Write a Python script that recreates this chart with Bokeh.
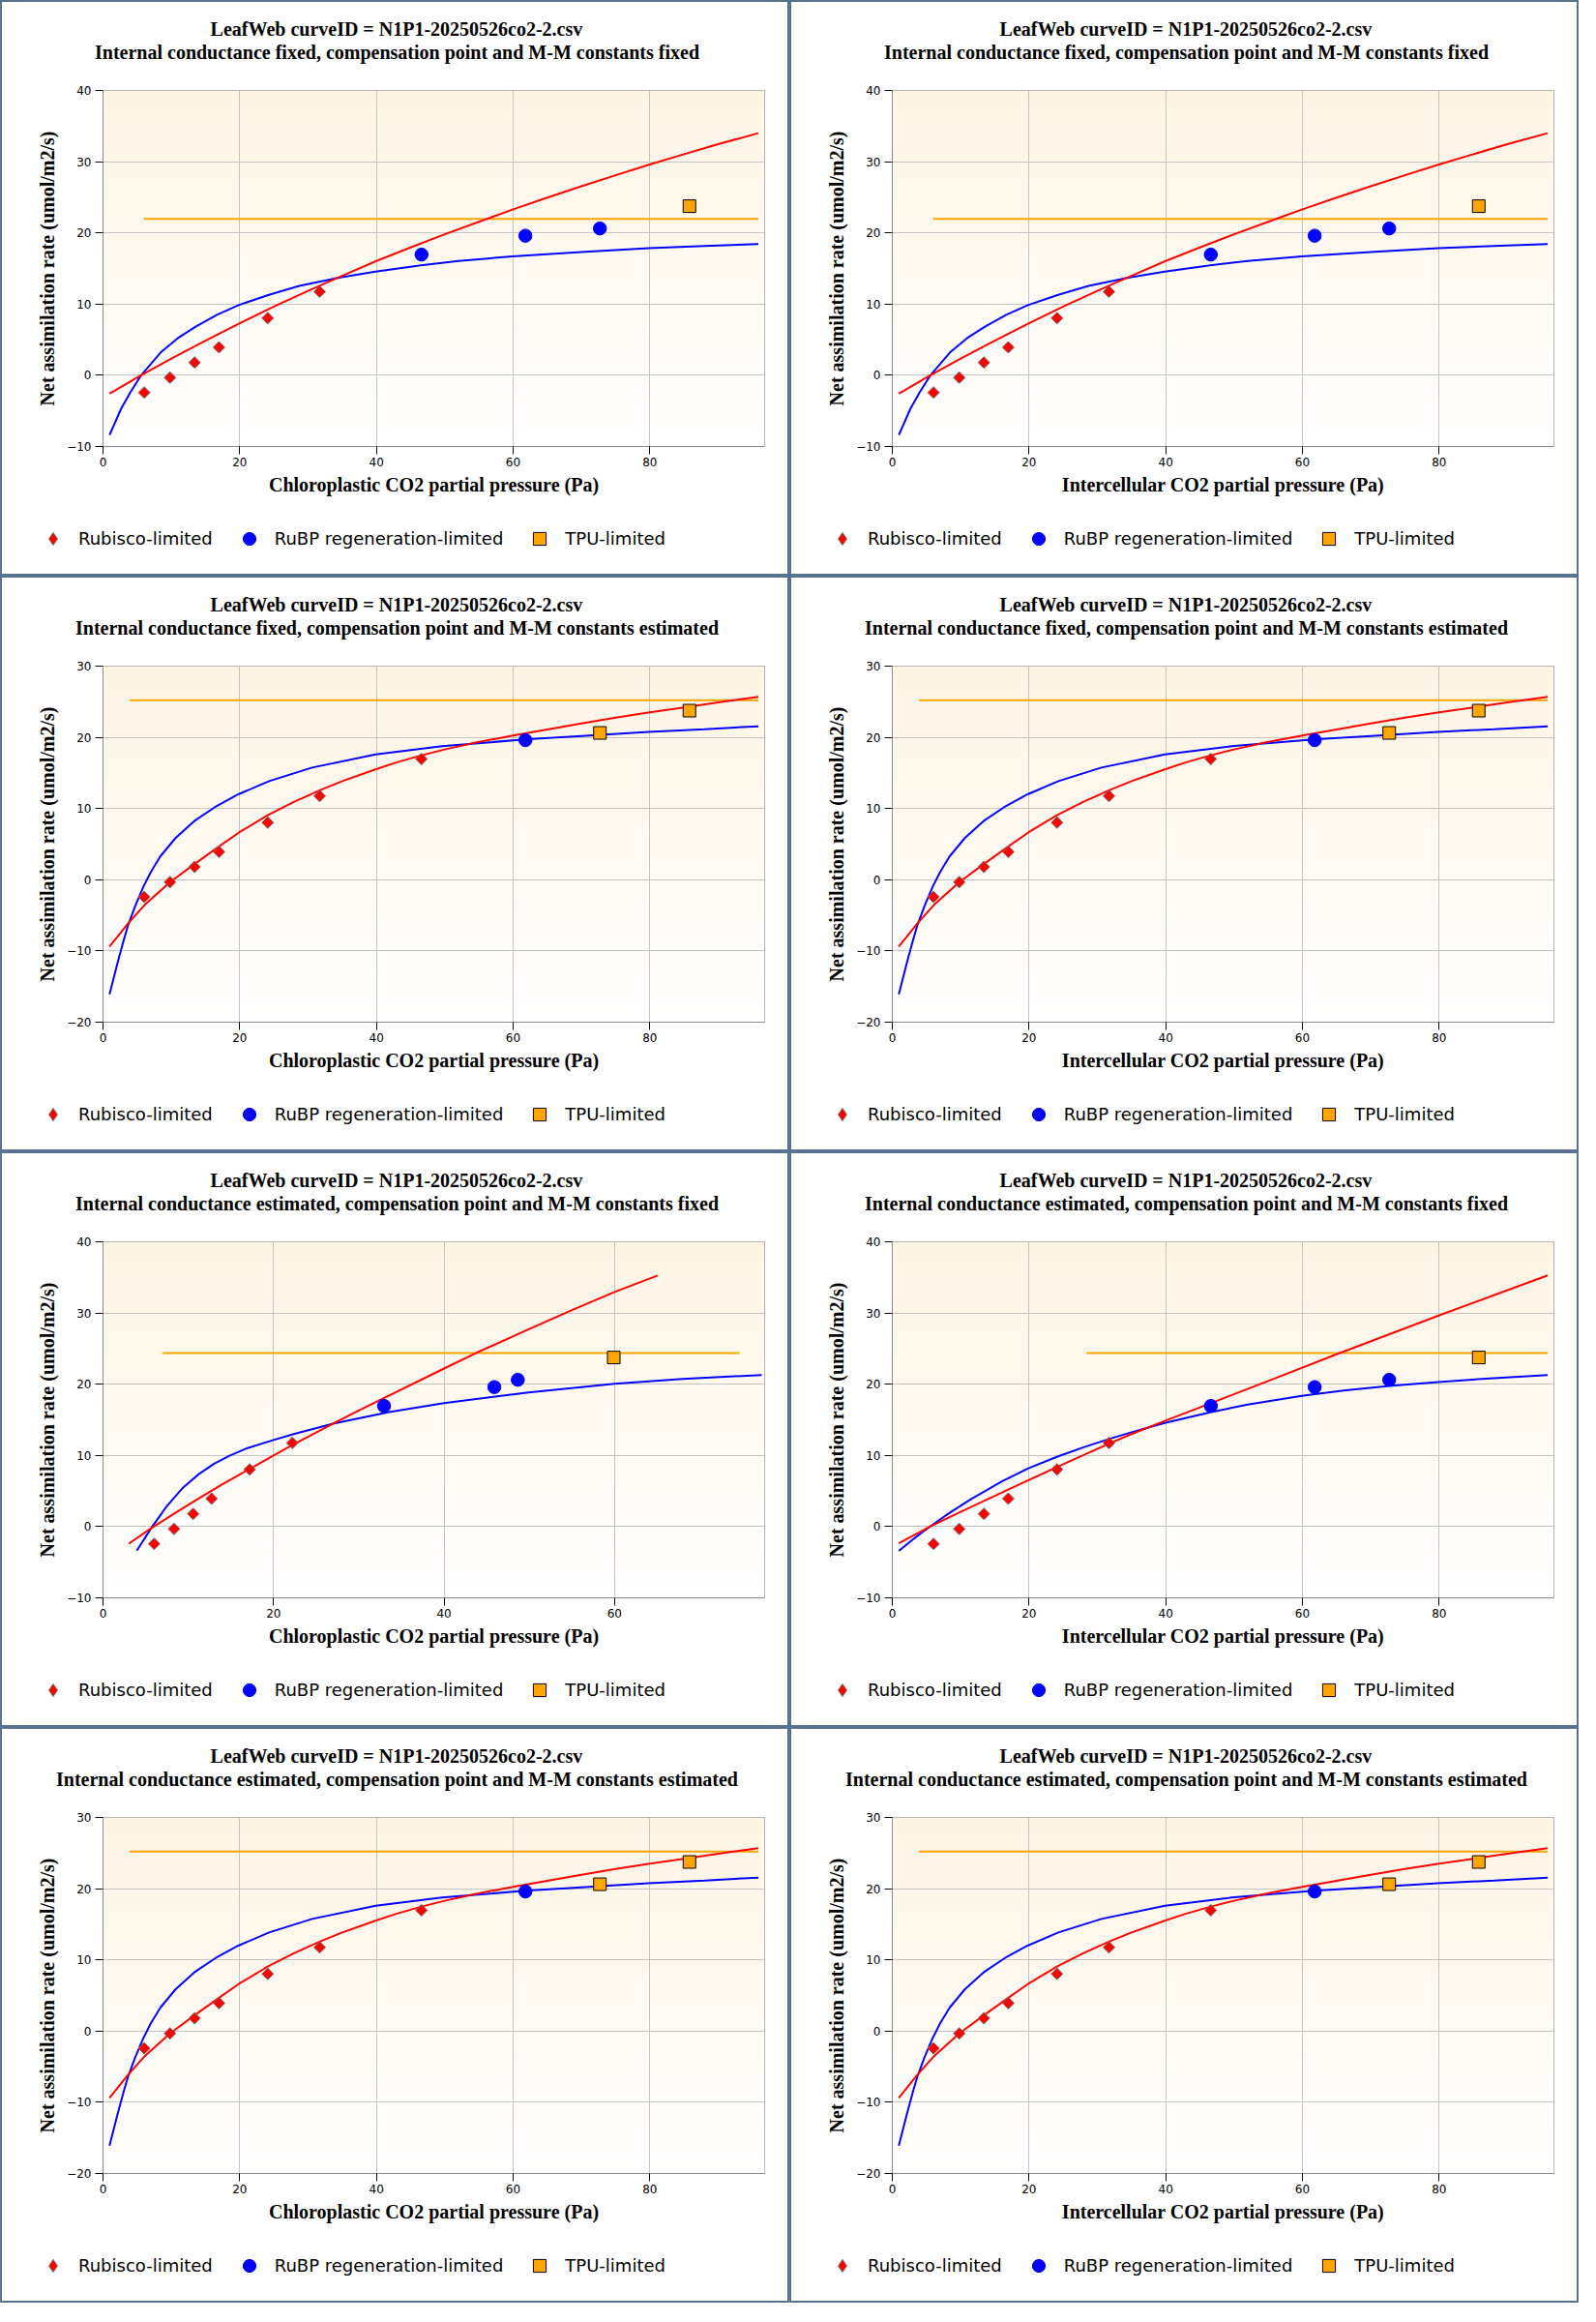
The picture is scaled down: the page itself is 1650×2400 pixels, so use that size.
import numpy as np
from bokeh.plotting import figure
from bokeh.models import (Range1d, SingleIntervalTicker, Title, Legend, LegendItem, GridBox, Column)
from bokeh.embed import file_html
from bokeh.resources import INLINE

# ---------------- text ----------------
TITLE_1 = "LeafWeb curveID = N1P1-20250526co2-2.csv"
SUB_FF = "Internal conductance fixed, compensation point and M-M constants fixed"
SUB_FE = "Internal conductance fixed, compensation point and M-M constants estimated"
SUB_EF = "Internal conductance estimated, compensation point and M-M constants fixed"
SUB_EE = "Internal conductance estimated, compensation point and M-M constants estimated"
XLAB_CC = "Chloroplastic CO2 partial pressure (Pa)"
XLAB_CI = "Intercellular CO2 partial pressure (Pa)"
YLAB = "Net assimilation rate (umol/m2/s)"
LEGEND_LABELS = ["Rubisco-limited", "RuBP regeneration-limited", "TPU-limited"]

# ---------------- observations ----------------
OBS_X = [6.03, 9.8, 13.4, 16.97, 24.1, 31.7, 46.6, 61.8, 72.7, 85.8]
OBS_X_CC_GMEST = [6.0, 8.33, 10.58, 12.73, 17.2, 22.2, 32.96, 45.9, 48.65, 59.9]
OBS_A = [-2.42, -0.33, 1.8, 3.93, 8.03, 11.75, 16.95, 19.6, 20.62, 23.75]
LIM_K_FIXED = ["R", "R", "R", "R", "R", "R", "J", "J", "J", "T"]
LIM_K_EST = ["R", "R", "R", "R", "R", "R", "R", "J", "T", "T"]

# ---------------- fitted curves ----------------
# set A: gm fixed, constants fixed
RED_A_X = [0.95, 5.58, 10, 15, 20, 25, 30, 34.73, 40, 45, 50, 56.27, 60, 65, 70, 75, 80, 85, 90, 95.88]
RED_A_Y = [-2.57, 0.0, 2.35, 4.85, 7.3, 9.65, 11.85, 13.87, 16.05, 17.95, 19.8, 22.0, 23.3, 24.95, 26.55, 28.1, 29.6, 31.05, 32.45, 34.0]
BLUE_A_X = [0.95, 2.7, 4.0, 5.58, 8.43, 10.96, 13.5, 16.67, 19.84, 24.27, 28.7, 34.73, 39.86, 46.5, 52, 59.9, 70, 79.85, 88, 95.88]
BLUE_A_Y = [-8.38, -4.6, -2.4, 0.0, 3.2, 5.23, 6.8, 8.5, 9.86, 11.3, 12.55, 13.75, 14.55, 15.45, 16.05, 16.7, 17.3, 17.84, 18.15, 18.42]
TPU_A_X = [5.97, 95.88]
TPU_A_Y = [21.98, 21.98]

# set B: constants estimated
RED_B_X = [0.95, 3.68, 6.02, 9.76, 13.37, 16.98, 19.84, 24.08, 28, 31.7, 35, 39.86, 43, 46.5, 50, 54.7, 60, 65, 70, 75, 80, 85, 90, 95.88]
RED_B_Y = [-9.37, -6.13, -3.6, -0.36, 2.2, 4.68, 6.6, 9.05, 10.95, 12.55, 13.85, 15.5, 16.5, 17.45, 18.3, 19.3, 20.25, 21.1, 21.95, 22.75, 23.5, 24.2, 24.9, 25.7]
BLUE_B_X = [0.95, 2.09, 3.0, 3.68, 4.7, 5.9, 7.0, 8.4, 10.6, 13.5, 16.7, 19.8, 24.3, 30.6, 39.9, 49.6, 61.7, 70, 79.8, 88, 95.9]
BLUE_B_Y = [-16.1, -11.8, -8.6, -6.35, -3.7, -1.0, 1.1, 3.3, 5.85, 8.35, 10.4, 12.0, 13.85, 15.75, 17.6, 18.75, 19.7, 20.2, 20.75, 21.15, 21.55]
TPU_B_X = [3.87, 95.9]
TPU_B_Y = [25.2, 25.2]

# set C: gm estimated, constants fixed (chloroplastic)
RED_C_X = [3.03, 5.64, 8.5, 11.16, 14, 17.2, 20, 22.2, 27.1, 30, 33.56, 40, 43.73, 50, 55, 60, 65.06]
RED_C_Y = [-2.39, -0.23, 1.95, 3.9, 5.95, 8.1, 10.0, 11.45, 14.55, 16.3, 18.4, 22.2, 24.37, 27.75, 30.4, 32.95, 35.27]
BLUE_C_X = [3.96, 5.64, 7.43, 9.3, 11.16, 13.03, 14.9, 16.76, 20.0, 22.36, 27.1, 33.56, 40.0, 49.9, 60.0, 68.0, 77.25]
BLUE_C_Y = [-3.38, -0.23, 2.79, 5.38, 7.3, 8.83, 10.0, 10.95, 12.16, 13.0, 14.5, 16.08, 17.35, 18.85, 20.05, 20.75, 21.3]
TPU_C_X = [7.0, 74.66]
TPU_C_Y = [24.37, 24.37]

# set D: gm estimated, constants fixed (intercellular)
RED_D_X = [0.95, 5.58, 10, 15, 20, 24.08, 28, 31.7, 35, 39.86, 46.5, 55, 65, 72, 79.85, 88, 95.88]
RED_D_Y = [-2.34, 0.05, 2.08, 4.32, 6.55, 8.35, 10.05, 11.65, 13.0, 14.85, 17.3, 20.45, 24.2, 26.75, 29.6, 32.5, 35.27]
BLUE_D_X = [0.95, 3.0, 5.58, 8.5, 11.6, 16.03, 19.84, 24.08, 28, 31.69, 35, 39.86, 46.5, 52, 59.9, 66, 72.7, 79.85, 88, 95.88]
BLUE_D_Y = [-3.42, -1.8, 0.05, 2.0, 3.9, 6.35, 8.15, 9.8, 11.15, 12.3, 13.25, 14.55, 16.05, 17.15, 18.35, 19.1, 19.75, 20.3, 20.85, 21.3]
TPU_D_X = [28.4, 95.88]
TPU_D_Y = [24.37, 24.37]

CURVES = {
    "A": (RED_A_X, RED_A_Y, BLUE_A_X, BLUE_A_Y, TPU_A_X, TPU_A_Y),
    "B": (RED_B_X, RED_B_Y, BLUE_B_X, BLUE_B_Y, TPU_B_X, TPU_B_Y),
    "C": (RED_C_X, RED_C_Y, BLUE_C_X, BLUE_C_Y, TPU_C_X, TPU_C_Y),
    "D": (RED_D_X, RED_D_Y, BLUE_D_X, BLUE_D_Y, TPU_D_X, TPU_D_Y),
}

PANELS = [
    dict(sub=SUB_FF, xlab=XLAB_CC, x=OBS_X, lim=LIM_K_FIXED, curves="A", xmax=96.8, ymin=-10, ymax=40),
    dict(sub=SUB_FF, xlab=XLAB_CI, x=OBS_X, lim=LIM_K_FIXED, curves="A", xmax=96.8, ymin=-10, ymax=40),
    dict(sub=SUB_FE, xlab=XLAB_CC, x=OBS_X, lim=LIM_K_EST, curves="B", xmax=96.8, ymin=-20, ymax=30),
    dict(sub=SUB_FE, xlab=XLAB_CI, x=OBS_X, lim=LIM_K_EST, curves="B", xmax=96.8, ymin=-20, ymax=30),
    dict(sub=SUB_EF, xlab=XLAB_CC, x=OBS_X_CC_GMEST, lim=LIM_K_FIXED, curves="C", xmax=77.6, ymin=-10, ymax=40),
    dict(sub=SUB_EF, xlab=XLAB_CI, x=OBS_X, lim=LIM_K_FIXED, curves="D", xmax=96.8, ymin=-10, ymax=40),
    dict(sub=SUB_EE, xlab=XLAB_CC, x=OBS_X, lim=LIM_K_EST, curves="B", xmax=96.8, ymin=-20, ymax=30),
    dict(sub=SUB_EE, xlab=XLAB_CI, x=OBS_X, lim=LIM_K_EST, curves="B", xmax=96.8, ymin=-20, ymax=30),
]

# ---------------- style ----------------
PW, PH = 812, 591          # one panel (inside its frame border)
LH = 60                    # legend strip height at the bottom of a panel
MH = PH - LH               # main figure height
ML, MR, MT = 104, 24, 91
MB = 72
BORDER = "#5b7190"
RED, BLUE, ORANGE = "#ff0000", "#0000ff", "#ffa500"
SERIF = "Liberation Serif"
SANS = "DejaVu Sans"
TITLE_PX = 20
GRAD_TOP = (253, 244, 228)
GRAD_BOTTOM = (255, 255, 255)

STYLE_R = dict(marker="square", angle=np.pi / 4, size=8.5, fill_color=RED, line_color="#707070", line_width=1)
STYLE_R_LEGEND = dict(marker="diamond", size=8.5, fill_color=RED, line_color="#707070", line_width=1)
STYLE_J = dict(marker="circle", size=13.5, fill_color=BLUE, line_color=BLUE, line_width=1)
STYLE_T = dict(marker="square", size=13, fill_color=ORANGE, line_color="#000000", line_width=1)

# Times/Liberation Serif Bold advance widths (1/1000 em), used to centre titles on the panel
_TB = {" ": 250, ",": 250, "-": 333, ".": 250, "=": 570, "C": 722, "D": 722, "I": 389, "L": 667,
       "M": 944, "N": 722, "P": 611, "W": 1000, "a": 500, "b": 556, "c": 444, "d": 556, "e": 444,
       "f": 333, "g": 500, "h": 556, "i": 278, "l": 278, "m": 833, "n": 556, "o": 500, "p": 556,
       "r": 444, "s": 389, "t": 333, "u": 556, "v": 500, "x": 500}


def text_width(s):
    return sum(_TB.get(ch, 500) for ch in s) * TITLE_PX / 1000.0


def gradient_image(n=256):
    t = np.linspace(0.0, 1.0, n)
    img = np.zeros((n, 1), dtype=np.uint32)
    view = img.view(dtype=np.uint8).reshape((n, 1, 4))
    for k in range(3):
        view[:, 0, k] = np.round(GRAD_BOTTOM[k] + (GRAD_TOP[k] - GRAD_BOTTOM[k]) * t).astype(np.uint8)
    view[:, 0, 3] = 255
    return img


def style_title(t, text):
    t.text = text
    t.align = "left"
    t.offset = PW / 2 - text_width(text) / 2 - ML + 2
    t.standoff = 0
    t.vertical_align = "bottom"
    t.text_font = SERIF
    t.text_font_style = "bold"
    t.text_font_size = "%dpx" % TITLE_PX
    t.text_color = "#000000"


def no_frame_align(fig):
    if "frame_align" in fig.properties():
        fig.frame_align = False


def make_main(cfg):
    xmax, ymin, ymax = cfg["xmax"], cfg["ymin"], cfg["ymax"]
    p = figure(width=PW, height=MH, x_range=Range1d(0, xmax), y_range=Range1d(ymin, ymax),
               output_backend="svg", toolbar_location=None,
               min_border_left=ML, min_border_right=MR, min_border_top=MT, min_border_bottom=MB)
    no_frame_align(p)
    # stacked upward from the frame: gap, subtitle, first title line
    gap = Title(text=" ", text_font_size="10px", standoff=16)
    p.add_layout(gap, "above")
    t_sub = Title()
    style_title(t_sub, cfg["sub"])
    p.add_layout(t_sub, "above")
    t_main = Title()
    style_title(t_main, TITLE_1)
    p.add_layout(t_main, "above")

    p.background_fill_color = "white"
    p.border_fill_color = "white"
    p.outline_line_color = "#a0a0a0"
    p.image_rgba(image=[gradient_image()], x=0, y=ymin, dw=xmax, dh=ymax - ymin, level="image")

    xt = SingleIntervalTicker(interval=20, num_minor_ticks=0)
    yt = SingleIntervalTicker(interval=10, num_minor_ticks=0)
    p.xaxis.ticker = xt
    p.yaxis.ticker = yt
    p.xgrid.ticker = xt
    p.ygrid.ticker = yt
    for g in (p.xgrid, p.ygrid):
        g.grid_line_color = "#c4c4c4"
        g.grid_line_width = 1

    for ax in (p.xaxis, p.yaxis):
        ax.axis_line_color = "#8c8c8c"
        ax.major_tick_line_color = "#000000"
        ax.major_tick_out = 8
        ax.major_tick_in = 0
        ax.minor_tick_line_color = None
        ax.major_label_text_font = SANS
        ax.major_label_text_font_size = "12px"
        ax.major_label_text_color = "#000000"
        ax.axis_label_text_font = SERIF
        ax.axis_label_text_font_style = "bold"
        ax.axis_label_text_font_size = "20px"
        ax.axis_label_text_color = "#000000"
    p.xaxis.major_label_standoff = 3
    p.yaxis.major_label_standoff = 4
    p.xaxis.axis_label_standoff = 5
    p.yaxis.axis_label_standoff = 6
    p.xaxis.axis_label = cfg["xlab"]
    p.yaxis.axis_label = YLAB

    rx, ry, bx, by, tx, ty = CURVES[cfg["curves"]]
    p.line(tx, ty, line_color=ORANGE, line_width=2)
    p.line(bx, by, line_color=BLUE, line_width=2)
    p.line(rx, ry, line_color=RED, line_width=2)

    xs, lim = cfg["x"], cfg["lim"]
    groups = {}
    for code in ("R", "J", "T"):
        idx = [i for i, c in enumerate(lim) if c == code]
        groups[code] = ([xs[i] for i in idx], [OBS_A[i] for i in idx])
    p.scatter(*groups["R"], **STYLE_R)
    p.scatter(*groups["J"], **STYLE_J)
    p.scatter(*groups["T"], **STYLE_T)
    return p, groups


def make_legend_strip(groups):
    # legend-only strip: same glyphs, ranges chosen so that no point falls inside it
    q = figure(width=PW, height=LH, x_range=Range1d(-2, -1), y_range=Range1d(-2, -1),
               output_backend="svg", toolbar_location=None,
               x_axis_location=None, y_axis_location=None,
               min_border=0, min_border_left=0, min_border_right=0, min_border_top=0, min_border_bottom=0)
    no_frame_align(q)
    q.grid.visible = False
    q.outline_line_color = None
    q.background_fill_color = "white"
    q.border_fill_color = "white"
    rr = q.scatter(*groups["R"], **STYLE_R_LEGEND)
    rj = q.scatter(*groups["J"], **STYLE_J)
    rt = q.scatter(*groups["T"], **STYLE_T)
    legend = Legend(items=[LegendItem(label=LEGEND_LABELS[0], renderers=[rr]),
                           LegendItem(label=LEGEND_LABELS[1], renderers=[rj]),
                           LegendItem(label=LEGEND_LABELS[2], renderers=[rt])],
                    location=(36, 20), orientation="horizontal",
                    glyph_width=33, glyph_height=33, label_standoff=10, spacing=21,
                    padding=4, margin=0, border_line_color=None, background_fill_alpha=0,
                    label_text_font=SANS, label_text_font_size="18px", label_text_color="#000000")
    q.add_layout(legend)
    return q


cells = []
for c in PANELS:
    main, groups = make_main(c)
    cells.append(Column(children=[main, make_legend_strip(groups)], spacing=0,
                        styles={"background-color": "white"}))

grid = GridBox(children=[(cell, i // 2, i % 2) for i, cell in enumerate(cells)], spacing=4,
               styles={"background-color": BORDER, "padding": "2px"})

open("out.html", "w").write(file_html(grid, INLINE))
